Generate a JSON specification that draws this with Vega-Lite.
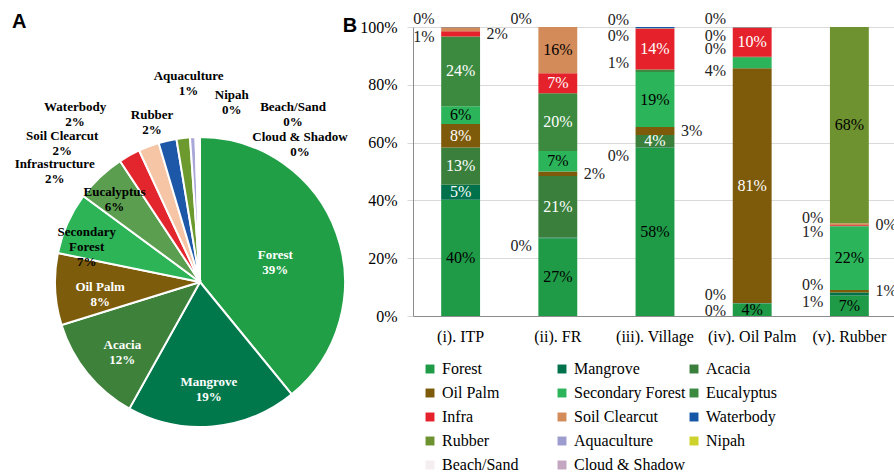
{
  "$schema": "https://vega.github.io/schema/vega-lite/v6.json",
  "padding": {"top": 11, "left": 0, "right": 0, "bottom": 0},
  "background": "white",
  "spacing": -58,
  "config": {
    "view": {"stroke": null},
    "font": "Liberation Serif",
    "title": {"font": "Liberation Sans", "fontSize": 20, "fontWeight": "bold", "anchor": "start", "color": "black"}
  },
  "resolve": {"scale": {"color": "independent"}, "legend": {"color": "independent"}},
  "hconcat": [
    {
      "width": 400,
      "height": 510,
      "title": {"text": "A", "offset": -5, "dx": 12},
      "data": {"values": [
        {"k": 1, "name": "Forest", "label": "Forest\n39%", "value": 39.1},
        {"k": 2, "name": "Mangrove", "label": "Mangrove\n19%", "value": 19.0},
        {"k": 3, "name": "Acacia", "label": "Acacia\n12%", "value": 12.1},
        {"k": 4, "name": "Oil Palm", "label": "Oil Palm\n8%", "value": 8.0},
        {"k": 5, "name": "Secondary Forest", "label": "Secondary\nForest\n7%", "value": 6.9},
        {"k": 6, "name": "Eucalyptus", "label": "Eucalyptus\n6%", "value": 5.6},
        {"k": 7, "name": "Infrastructure", "label": "Infrastructure\n2%", "value": 2.4},
        {"k": 8, "name": "Soil Clearcut", "label": "Soil Clearcut\n2%", "value": 2.3},
        {"k": 9, "name": "Waterbody", "label": "Waterbody\n2%", "value": 2.0},
        {"k": 10, "name": "Rubber", "label": "Rubber\n2%", "value": 1.5},
        {"k": 11, "name": "Aquaculture", "label": "Aquaculture\n1%", "value": 0.6},
        {"k": 12, "name": "Nipah", "label": "Nipah\n0%", "value": 0.2},
        {"k": 13, "name": "Beach/Sand", "label": "Beach/Sand\n0%", "value": 0.2},
        {"k": 14, "name": "Cloud & Shadow", "label": "Cloud & Shadow\n0%", "value": 0.1}
      ]},
      "layer": [
        {
          "mark": {"type": "arc", "outerRadius": 145, "stroke": "white", "strokeWidth": 2},
          "encoding": {
            "theta": {"field": "value", "type": "quantitative", "stack": true},
            "order": {"field": "k", "type": "quantitative"},
            "color": {
              "field": "name", "type": "nominal", "legend": null,
              "scale": {
                "domain": ["Forest", "Mangrove", "Acacia", "Oil Palm", "Secondary Forest", "Eucalyptus", "Infrastructure", "Soil Clearcut", "Waterbody", "Rubber", "Aquaculture", "Nipah", "Beach/Sand", "Cloud & Shadow"],
                "range": ["#209f46", "#00784b", "#3d813b", "#7d5c0b", "#2db457", "#5b9e4f", "#e3262d", "#f5c5a6", "#1d57a7", "#6c9a2f", "#a9a6d8", "#bcd9a6", "#e8efd0", "#d9d9d9"]
              }
            }
          }
        },
        {
          "mark": {"type": "text", "radius": 80, "font": "Liberation Serif", "fontWeight": "bold", "fontSize": 13, "lineBreak": "\n", "color": "white"},
          "encoding": {
            "theta": {"field": "value", "type": "quantitative", "stack": true},
            "order": {"field": "k", "type": "quantitative"},
            "detail": {"field": "name"},
            "text": {"condition": {"test": "datum.name !== 'Forest'", "value": ""}, "field": "label"}
          }
        },
        {
          "mark": {"type": "text", "radius": 100, "font": "Liberation Serif", "fontWeight": "bold", "fontSize": 13, "lineBreak": "\n", "color": "white"},
          "encoding": {
            "theta": {"field": "value", "type": "quantitative", "stack": true},
            "order": {"field": "k", "type": "quantitative"},
            "detail": {"field": "name"},
            "text": {"condition": {"test": "indexof(['Mangrove','Acacia','Oil Palm'], datum.name) < 0", "value": ""}, "field": "label"}
          }
        },
        {
          "mark": {"type": "text", "radius": 124, "font": "Liberation Serif", "fontWeight": "bold", "fontSize": 13, "lineBreak": "\n", "color": "black"},
          "encoding": {
            "theta": {"field": "value", "type": "quantitative", "stack": true},
            "order": {"field": "k", "type": "quantitative"},
            "detail": {"field": "name"},
            "text": {"condition": {"test": "indexof(['Secondary Forest','Eucalyptus'], datum.name) < 0", "value": ""}, "field": "label"}
          }
        },
        {
          "transform": [{"filter": "indexof(['Infrastructure','Soil Clearcut','Waterbody'], datum.name) >= 0"}],
          "mark": {"type": "text", "font": "Liberation Serif", "fontWeight": "bold", "fontSize": 13, "lineBreak": "\n", "color": "black"},
          "encoding": {
            "theta": {"field": "name", "type": "nominal", "scale": {"type": "point", "domain": ["Infrastructure", "Soil Clearcut", "Waterbody"], "range": [-0.89, -0.62], "padding": 0}},
            "radius": {"field": "name", "type": "nominal", "scale": {"type": "point", "domain": ["Infrastructure", "Soil Clearcut", "Waterbody"], "range": [187, 215], "padding": 0}},
            "text": {"field": "label"}
          }
        },
        {
          "transform": [{"filter": "indexof(['Rubber','Aquaculture','Nipah'], datum.name) >= 0"}],
          "mark": {"type": "text", "font": "Liberation Serif", "fontWeight": "bold", "fontSize": 13, "lineBreak": "\n", "color": "black"},
          "encoding": {
            "theta": {"field": "name", "type": "nominal", "scale": {"type": "point", "domain": ["Rubber", "Aquaculture", "Nipah"], "range": [-0.279, 0.168], "padding": 0}},
            "radius": {"field": "name", "type": "nominal", "scale": {"type": "point", "domain": ["Rubber", "Nipah", "Aquaculture"], "range": [174, 206], "padding": 0}},
            "text": {"field": "label"}
          }
        },
        {
          "transform": [{"filter": "indexof(['Beach/Sand','Cloud & Shadow'], datum.name) >= 0"}],
          "mark": {"type": "text", "font": "Liberation Serif", "fontWeight": "bold", "fontSize": 13, "lineBreak": "\n", "color": "black"},
          "encoding": {
            "theta": {"field": "name", "type": "nominal", "scale": {"type": "point", "domain": ["Beach/Sand", "Cloud & Shadow"], "range": [0.489, 0.604], "padding": 0}},
            "radius": {"field": "name", "type": "nominal", "scale": {"type": "point", "domain": ["Cloud & Shadow", "Beach/Sand"], "range": [176, 198], "padding": 0}},
            "text": {"field": "label"}
          }
        }
      ],
      "resolve": {"scale": {"theta": "independent", "radius": "independent", "color": "independent"}}
    },
    {
      "width": 484,
      "height": 289,
      "title": {"text": "B", "offset": -25, "dx": -17},
      "data": {"values": [
        {"cat": "(i). ITP", "k": 1, "name": "Forest", "value": 0.402},
        {"cat": "(i). ITP", "k": 2, "name": "Mangrove", "value": 0.052},
        {"cat": "(i). ITP", "k": 3, "name": "Acacia", "value": 0.129},
        {"cat": "(i). ITP", "k": 4, "name": "Oil Palm", "value": 0.081},
        {"cat": "(i). ITP", "k": 5, "name": "Secondary Forest", "value": 0.062},
        {"cat": "(i). ITP", "k": 6, "name": "Eucalyptus", "value": 0.241},
        {"cat": "(i). ITP", "k": 7, "name": "Infra", "value": 0.018},
        {"cat": "(i). ITP", "k": 8, "name": "Soil Clearcut", "value": 0.014},
        {"cat": "(i). ITP", "k": 9, "name": "Waterbody", "value": 0.001},
        {"cat": "(ii). FR", "k": 1, "name": "Forest", "value": 0.269},
        {"cat": "(ii). FR", "k": 2, "name": "Mangrove", "value": 0.003},
        {"cat": "(ii). FR", "k": 3, "name": "Acacia", "value": 0.212},
        {"cat": "(ii). FR", "k": 4, "name": "Oil Palm", "value": 0.016},
        {"cat": "(ii). FR", "k": 5, "name": "Secondary Forest", "value": 0.071},
        {"cat": "(ii). FR", "k": 6, "name": "Eucalyptus", "value": 0.200},
        {"cat": "(ii). FR", "k": 7, "name": "Infra", "value": 0.069},
        {"cat": "(ii). FR", "k": 8, "name": "Soil Clearcut", "value": 0.160},
        {"cat": "(ii). FR", "k": 9, "name": "Waterbody", "value": 0.0},
        {"cat": "(iii). Village", "k": 1, "name": "Forest", "value": 0.582},
        {"cat": "(iii). Village", "k": 2, "name": "Mangrove", "value": 0.002},
        {"cat": "(iii). Village", "k": 3, "name": "Acacia", "value": 0.042},
        {"cat": "(iii). Village", "k": 4, "name": "Oil Palm", "value": 0.028},
        {"cat": "(iii). Village", "k": 5, "name": "Secondary Forest", "value": 0.190},
        {"cat": "(iii). Village", "k": 6, "name": "Eucalyptus", "value": 0.009},
        {"cat": "(iii). Village", "k": 7, "name": "Infra", "value": 0.141},
        {"cat": "(iii). Village", "k": 8, "name": "Soil Clearcut", "value": 0.002},
        {"cat": "(iii). Village", "k": 9, "name": "Waterbody", "value": 0.004},
        {"cat": "(iv). Oil Palm", "k": 1, "name": "Forest", "value": 0.043},
        {"cat": "(iv). Oil Palm", "k": 2, "name": "Mangrove", "value": 0.001},
        {"cat": "(iv). Oil Palm", "k": 3, "name": "Acacia", "value": 0.001},
        {"cat": "(iv). Oil Palm", "k": 4, "name": "Oil Palm", "value": 0.812},
        {"cat": "(iv). Oil Palm", "k": 5, "name": "Secondary Forest", "value": 0.037},
        {"cat": "(iv). Oil Palm", "k": 6, "name": "Eucalyptus", "value": 0.003},
        {"cat": "(iv). Oil Palm", "k": 7, "name": "Infra", "value": 0.100},
        {"cat": "(iv). Oil Palm", "k": 8, "name": "Soil Clearcut", "value": 0.002},
        {"cat": "(iv). Oil Palm", "k": 9, "name": "Waterbody", "value": 0.001},
        {"cat": "(v). Rubber", "k": 1, "name": "Forest", "value": 0.071},
        {"cat": "(v). Rubber", "k": 2, "name": "Mangrove", "value": 0.009},
        {"cat": "(v). Rubber", "k": 3, "name": "Acacia", "value": 0.002},
        {"cat": "(v). Rubber", "k": 4, "name": "Oil Palm", "value": 0.008},
        {"cat": "(v). Rubber", "k": 5, "name": "Secondary Forest", "value": 0.220},
        {"cat": "(v). Rubber", "k": 6, "name": "Eucalyptus", "value": 0.002},
        {"cat": "(v). Rubber", "k": 7, "name": "Infra", "value": 0.003},
        {"cat": "(v). Rubber", "k": 8, "name": "Soil Clearcut", "value": 0.006},
        {"cat": "(v). Rubber", "k": 10, "name": "Rubber", "value": 0.679}
      ]},
      "encoding": {
        "x": {
          "field": "cat", "type": "nominal", "sort": null,
          "scale": {"paddingInner": 0.6, "paddingOuter": 0.29},
          "axis": {"title": null, "labelAngle": 0, "labelFont": "Liberation Serif", "labelFontSize": 16, "labelColor": "black", "ticks": false, "domainColor": "#8c8c8c", "labelPadding": 12}
        },
        "order": {"field": "k", "type": "quantitative"},
        "detail": {"field": "name"}
      },
      "layer": [
        {
          "mark": {"type": "bar"},
          "encoding": {
            "y": {
              "field": "value", "type": "quantitative", "stack": "zero",
              "scale": {"domain": [0, 1]},
              "axis": {"title": null, "format": ".0%", "values": [0, 0.2, 0.4, 0.6, 0.8, 1], "labelFont": "Liberation Serif", "labelFontSize": 16, "labelColor": "black", "gridColor": "#d9d9d9", "domainColor": "#8c8c8c", "tickColor": "#d9d9d9", "tickSize": 6, "labelPadding": 10}
            },
            "color": {
              "field": "name", "type": "nominal",
              "scale": {
                "domain": ["Forest", "Mangrove", "Acacia", "Oil Palm", "Secondary Forest", "Eucalyptus", "Infra", "Soil Clearcut", "Waterbody", "Rubber", "Aquaculture", "Nipah", "Beach/Sand", "Cloud & Shadow"],
                "range": ["#1f9b48", "#00714b", "#3a803c", "#7d5b0b", "#2cb45a", "#3b8a40", "#e5222b", "#d38b5a", "#1457a6", "#6f9230", "#9d9ccf", "#cdd22c", "#f4eef0", "#c4a6c0"]
              },
              "legend": {"title": null, "orient": "none", "direction": "horizontal", "legendX": 9, "legendY": 334, "columns": 3, "symbolType": "square", "symbolSize": 80, "symbolStrokeWidth": 0, "labelFont": "Liberation Serif", "labelFontSize": 16, "labelColor": "black", "rowPadding": 8, "columnPadding": 0, "gridAlign": "all", "labelOffset": 4, "labelLimit": 200, "padding": 0}
            }
          }
        },
        {
          "mark": {"type": "text", "fontSize": 16, "font": "Liberation Serif"},
          "encoding": {
            "y": {"field": "value", "type": "quantitative", "stack": "zero", "bandPosition": 0.5},
            "text": {"condition": {"test": "datum.value < 0.04", "value": ""}, "field": "value", "format": ".0%"},
            "color": {"condition": {"test": "indexof(['Mangrove','Acacia','Oil Palm','Eucalyptus','Infra'], datum.name) >= 0", "value": "white"}, "value": "black"}
          }
        },
        {
          "mark": {"type": "text", "fontSize": 16, "font": "Liberation Serif", "align": "right", "baseline": "top", "dx": -26, "color": "#222222"},
          "encoding": {
            "y": {"field": "value", "type": "quantitative", "stack": "zero", "bandPosition": 0.5},
            "text": {"condition": {"test": "datum.value >= 0.04 || indexof(['Mangrove','Secondary Forest','Soil Clearcut'], datum.name) < 0", "value": ""}, "field": "value", "format": ".0%"}
          }
        },
        {
          "mark": {"type": "text", "fontSize": 16, "font": "Liberation Serif", "align": "right", "baseline": "bottom", "dx": -26, "color": "#222222"},
          "encoding": {
            "y": {"field": "value", "type": "quantitative", "stack": "zero", "bandPosition": 0.5},
            "text": {"condition": {"test": "datum.value >= 0.04 || indexof(['Acacia','Eucalyptus','Waterbody'], datum.name) < 0", "value": ""}, "field": "value", "format": ".0%"}
          }
        },
        {
          "mark": {"type": "text", "fontSize": 16, "font": "Liberation Serif", "align": "left", "baseline": "middle", "dx": 26, "color": "#222222"},
          "encoding": {
            "y": {"field": "value", "type": "quantitative", "stack": "zero", "bandPosition": 0.5},
            "text": {"condition": {"test": "datum.value >= 0.04 || indexof(['Infra','Oil Palm'], datum.name) < 0", "value": ""}, "field": "value", "format": ".0%"}
          }
        }
      ]
    }
  ]
}
